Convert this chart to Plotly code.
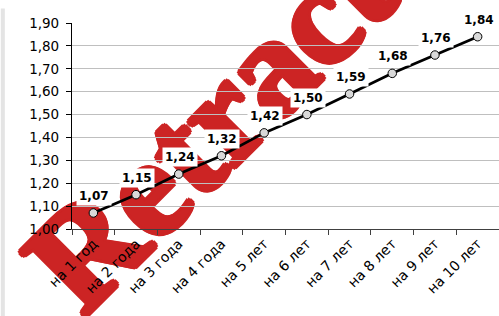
import plotly.graph_objects as go

categories = ["на 1 год", "на 2 года", "на 3 года", "на 4 года", "на 5 лет",
              "на 6 лет", "на 7 лет", "на 8 лет", "на 9 лет", "на 10 лет"]
values = [1.07, 1.15, 1.24, 1.32, 1.42, 1.50, 1.59, 1.68, 1.76, 1.84]
y_ticks = [1.00, 1.10, 1.20, 1.30, 1.40, 1.50, 1.60, 1.70, 1.80, 1.90]
y_tick_labels = [f"{v:.2f}".replace(".", ",") for v in y_ticks]
point_labels = [f"{v:.2f}".replace(".", ",") for v in values]
watermark = "Retracted"

fig = go.Figure()
fig.add_trace(go.Scatter(
    x=categories, y=values, mode="lines+markers",
    line=dict(color="black", width=2.75),
    marker=dict(size=8.5, color="#D9D9D9", line=dict(color="black", width=1)),
    cliponaxis=False, showlegend=False, hoverinfo="skip",
))

for c, v, t in zip(categories, values, point_labels):
    fig.add_annotation(
        x=c, y=v, text=f"<b>{t}</b>", showarrow=False,
        xshift=1, yshift=17, yanchor="middle", xanchor="center",
        font=dict(family="DejaVu Sans", size=12, color="black"),
        bgcolor="white", borderpad=2,
    )

# watermark, drawn beneath the gridlines
wm_col = "#CC2424"
fig.add_shape(
    type="rect", xref="paper", yref="paper",
    x0=0.407, x1=0.417, y0=0.79, y1=0.80,
    line=dict(width=0), fillcolor="rgba(0,0,0,0)", layer="below",
    label=dict(text=watermark, textangle=-45, textposition="middle center",
               xanchor="center", yanchor="middle",
               font=dict(family="Liberation Sans Narrow", size=140,
                         color=wm_col, weight="bold",
                         shadow=(f"3px 0 0 {wm_col}, -3px 0 0 {wm_col}, "
                                 f"0 3px 0 {wm_col}, 0 -3px 0 {wm_col}, "
                                 f"2px 2px 0 {wm_col}, -2px -2px 0 {wm_col}, "
                                 f"2px -2px 0 {wm_col}, -2px 2px 0 {wm_col}"))),
)

# chart-area shadow on the left edge
fig.add_shape(type="line", xref="paper", yref="paper",
              x0=-0.162, x1=-0.162, y0=1.07, y1=-0.43,
              line=dict(color="#E4E4E4", width=4), layer="below")

fig.update_layout(
    width=499, height=316,
    margin=dict(l=72, r=0, t=23, b=87, autoexpand=False),
    paper_bgcolor="white", plot_bgcolor="white",
    separators=", ",
    font=dict(family="DejaVu Sans", color="black"),
)
fig.update_xaxes(
    type="category", range=[-0.5, 9.5],
    tickson="boundaries", ticks="outside", ticklen=5, tickcolor="#404040",
    showline=True, linecolor="#404040", linewidth=1.2,
    showgrid=False, tickangle=-45,
    tickfont=dict(family="DejaVu Sans", size=14, color="black"),
)
fig.update_yaxes(
    range=[1.0, 1.9], tickvals=y_ticks, ticktext=y_tick_labels,
    ticks="outside", ticklen=5, tickcolor="black", ticklabelstandoff=4,
    showline=True, linecolor="black", linewidth=1.2,
    showgrid=True, gridcolor="#BFBFBF", gridwidth=1, zeroline=False,
    tickfont=dict(family="DejaVu Sans", size=13.5, color="black"),
)

fig.write_html("out.html", config={"displayModeBar": False},
               post_script="document.body.style.margin='0';")
